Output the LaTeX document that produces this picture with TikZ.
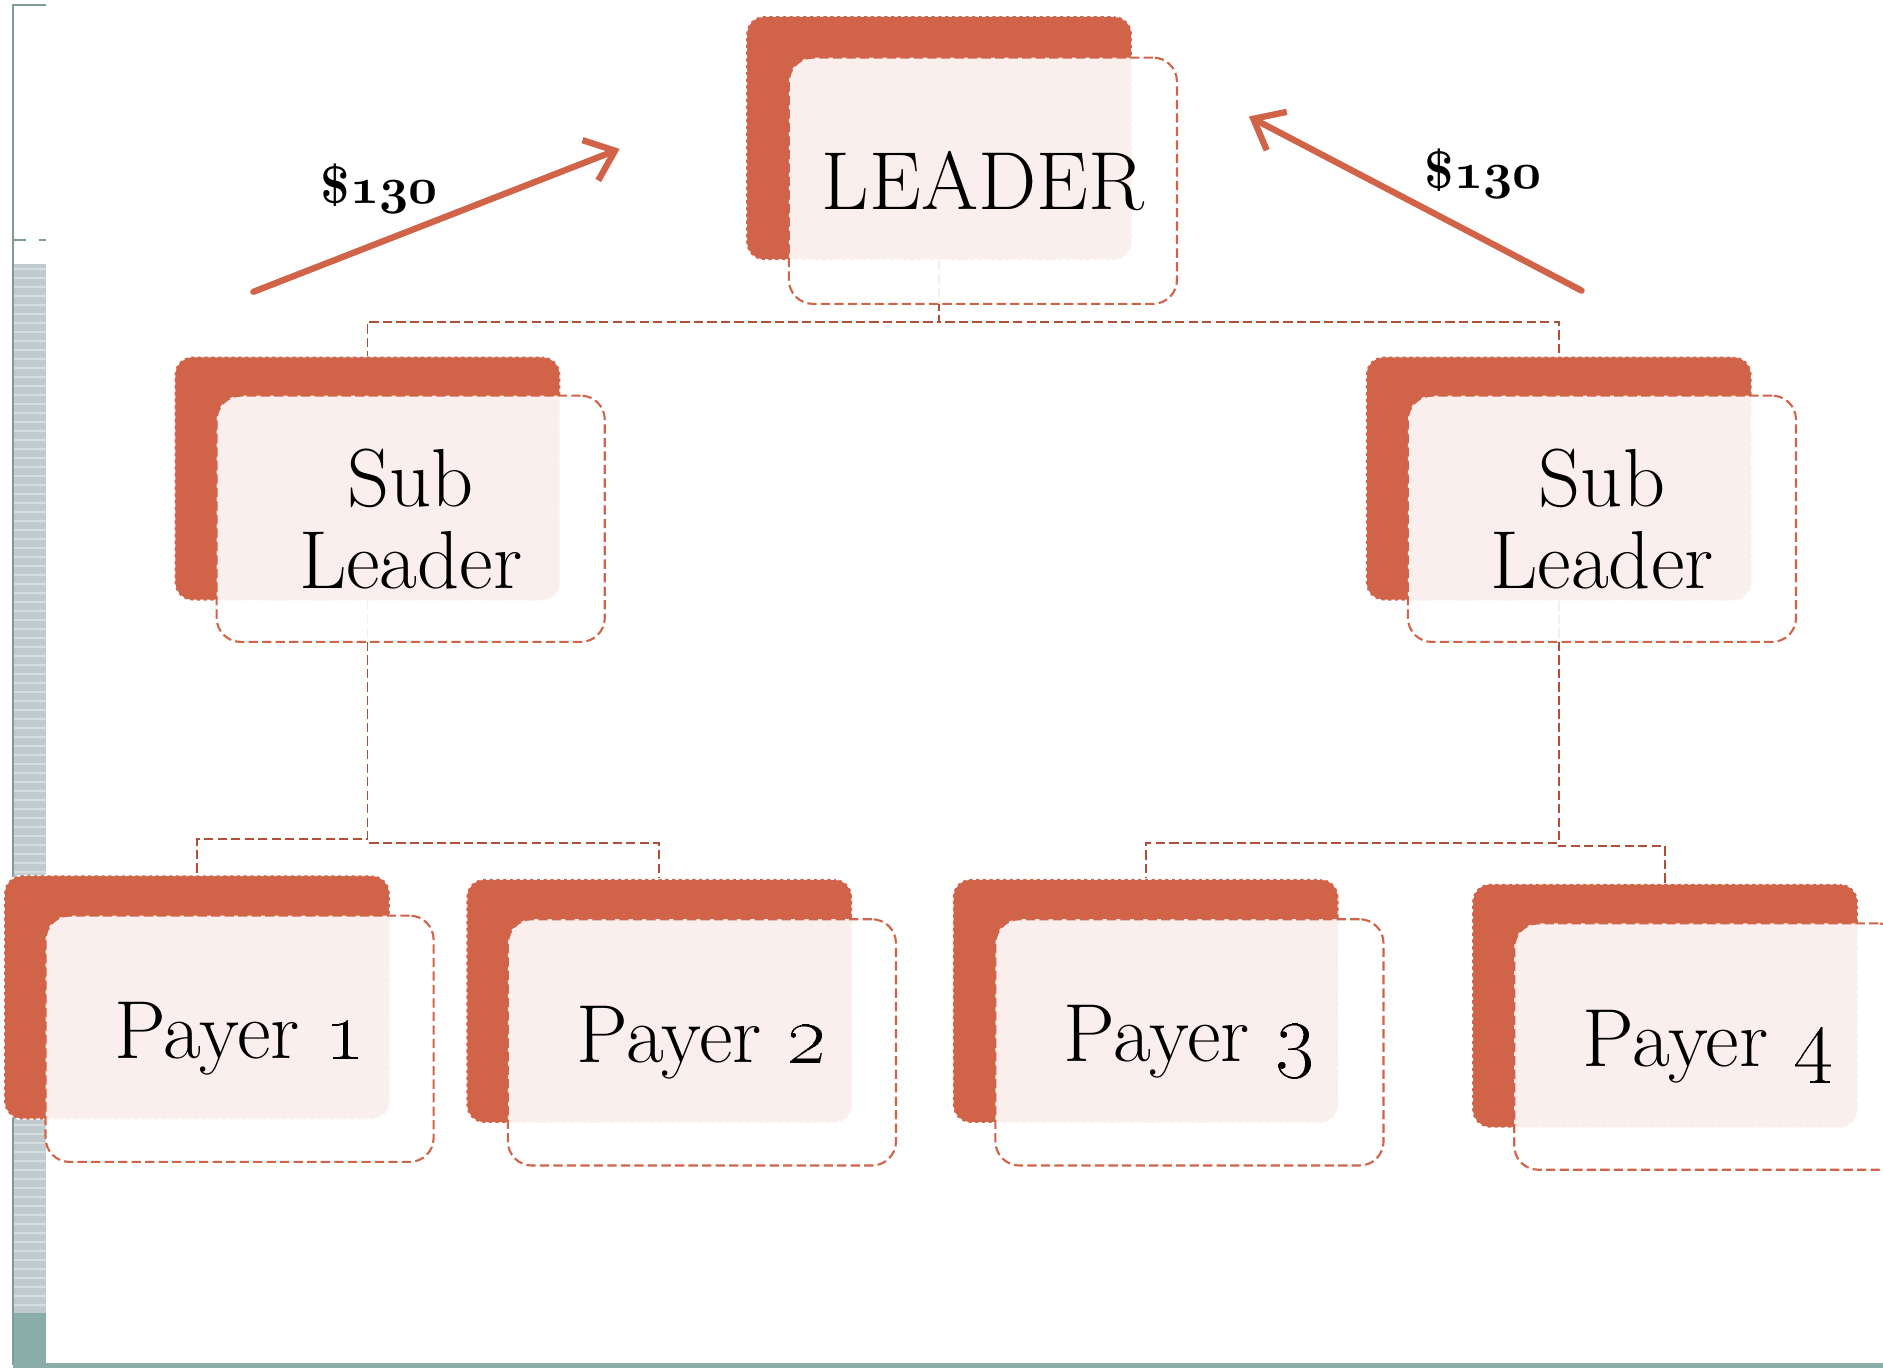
\documentclass[tikz,border=0pt]{standalone}
\usetikzlibrary{arrows.meta,positioning}

\definecolor{accent}{HTML}{D16349}
\definecolor{linkred}{HTML}{B04E38}
\definecolor{bargray}{HTML}{BFCBCF}
\definecolor{barteal}{HTML}{8BADAA}
\definecolor{frameteal}{HTML}{7E9C99}

% bold old style digits
\newcommand\boldosn[1]{{\usefont{OML}{cmm}{b}{it}#1}}

\tikzset{backbox/.style = {shape = rectangle,
                           rounded corners = 0.15cm,
                           fill = accent,
                           draw = white,
                           line width = 0.4pt,
                           dash pattern = on 0.8pt off 0.8pt,
                           minimum width = 3.21cm,
                           minimum height = 2.03cm,
                           inner sep = 0pt},
         frontbox/.style = {shape = rectangle,
                            rounded corners = 0.2cm,
                            fill = white,
                            fill opacity = 0.9,
                            text opacity = 1,
                            draw = accent,
                            line width = 0.5pt,
                            dash pattern = on 2.2pt off 1pt,
                            minimum width = 3.23cm,
                            minimum height = 2.05cm,
                            inner sep = 0pt,
                            align = center,
                            font = \fontsize{19.5}{19.4}\selectfont},
         link/.style = {draw = linkred,
                        line width = 0.45pt,
                        dash pattern = on 2.2pt off 1pt},
         money/.style = {draw = accent,
                         line width = 1.5pt,
                         line cap = round,
                         -{Straight Barb[length=2.2mm, width=3.6mm]}},
         amount/.style = {font = \fontsize{12.5}{14}\selectfont\bfseries}}

\begin{document}
\begin{tikzpicture}[x=0.01cm, y=-0.01cm]
	\useasboundingbox (0,0) rectangle (1568,1140);
	% side bar
	\fill[bargray] (12,220) rectangle (38,1093);
	\foreach \y in {224,231.5,...,1090}
		\draw[white, opacity=0.35, line width=0.5pt] (12,\y) -- (38,\y);
	\fill[barteal] (12,1093) rectangle (38,1137);
	\draw[frameteal, line width=0.6pt] (38,4) -- (11,4) -- (11,1137);
	\draw[frameteal, line width=0.6pt, dashed] (11,200) -- (38,200);
	\draw[barteal, line width=1.2pt] (11,1137) -- (1568,1137);

	% back boxes
	\node[backbox] (leadB) at (782,115) {};
	\node[backbox] (subLB) at (306,398.5) {};
	\node[backbox] (subRB) at (1298,398.5) {};
	\node[backbox] (p1B) at (164,830.5) {};
	\node[backbox] (p2B) at (549,833.5) {};
	\node[backbox] (p3B) at (954,833.5) {};
	\node[backbox] (p4B) at (1386.5,837.5) {};

	% links
	\draw[link] (leadB.south) -- ++(0,51) -| (subLB.north);
	\draw[link] (leadB.south) -- ++(0,51) -| (subRB.north);
	\draw[link] (subLB.south) -- ++(0,198) -| (p1B.north);
	\draw[link] (subLB.south) -- ++(0,201) -| (p2B.north);
	\draw[link] (subRB.south) -- ++(0,201) -| (p3B.north);
	\draw[link] (subRB.south) -- ++(0,204) -| (p4B.north);

	% front boxes
	\node[frontbox] (lead) at (818.5,150.5) {LEADER};
	\node[frontbox] (subL) at (342,432) {Sub\\Leader};
	\node[frontbox] (subR) at (1334,432) {Sub\\Leader};
	\node[frontbox] (p1) at (199.5,865) {Payer \oldstylenums{1}};
	\node[frontbox] (p2) at (584.5,868) {Payer \oldstylenums{2}};
	\node[frontbox] (p3) at (990.5,868) {Payer \oldstylenums{3}};
	\node[frontbox] (p4) at (1422.5,871.5) {Payer \oldstylenums{4}};

	% money
	\coordinate (l0) at (211,243);
	\coordinate (l1) at (516,124);
	\coordinate (r0) at (1317,242);
	\coordinate (r1) at (1040,97);
	\draw[money] (l0) -- (l1);
	\draw[money] (r0) -- (r1);
	\node[amount] (amtL) at (316,157) {\$\boldosn{130}};
	\node[amount] (amtR) at (1235,145) {\$\boldosn{130}};
\end{tikzpicture}
\end{document}
